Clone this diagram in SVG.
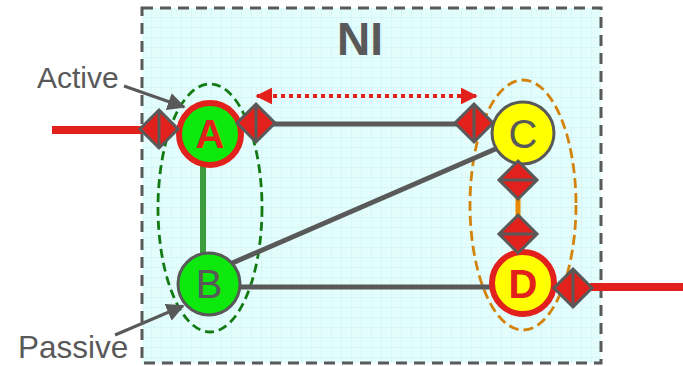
<svg xmlns="http://www.w3.org/2000/svg" width="683" height="366" viewBox="0 0 683 366">
  <defs>
    <pattern id="grid" width="10" height="10" patternUnits="userSpaceOnUse" x="142" y="8">
      <rect width="10" height="10" fill="#e3fdfd"/>
      <path d="M10 0V10M0 10H10" stroke="#c9f1f3" stroke-width="1" fill="none"/>
    </pattern>
    <marker id="grayHead" viewBox="0 0 10 10" refX="9" refY="5" markerWidth="6" markerHeight="6" orient="auto" markerUnits="strokeWidth">
      <path d="M0 0L10 5L0 10z" fill="#595959"/>
    </marker>
    <marker id="redHead" viewBox="0 0 10 10" refX="9" refY="5" markerWidth="4.2" markerHeight="4.2" orient="auto-start-reverse" markerUnits="strokeWidth">
      <path d="M0 0L10 5L0 10z" fill="#e3211c"/>
    </marker>
    <!-- port diamond, split vertically -->
    <g id="portV">
      <path d="M0 -19L19 0L0 19L-19 0z" fill="#e3211c" stroke="#595959" stroke-width="3" stroke-linejoin="miter"/>
      <path d="M0 -19V19" stroke="#595959" stroke-width="3"/>
    </g>
    <!-- port diamond, split horizontally -->
    <g id="portH">
      <path d="M0 -19L19 0L0 19L-19 0z" fill="#e3211c" stroke="#595959" stroke-width="3"/>
      <path d="M-19 0H19" stroke="#595959" stroke-width="3"/>
    </g>
  </defs>
  <style>
    .lbl { font-family: "Liberation Sans", Arial, sans-serif; fill: #595959; }
    .node-txt { font-family: "Liberation Sans", Arial, sans-serif; font-size: 40px; text-anchor: middle; }
    .link { stroke: #595959; stroke-width: 5; fill: none; }
    .ext { stroke: #e3211c; stroke-width: 8; fill: none; }
  </style>

  <!-- NI region -->
  <g id="ni">
    <rect x="142" y="8" width="459" height="355" fill="url(#grid)" stroke="#595959" stroke-width="3" stroke-dasharray="11 7"/>
    <text class="lbl" x="360" y="55" font-size="46" font-weight="bold" text-anchor="middle">NI</text>
  </g>

  <!-- groups of nodes -->
  <ellipse cx="210" cy="208" rx="52" ry="124" fill="none" stroke="#137a13" stroke-width="2.8" stroke-dasharray="9 5"/>
  <ellipse cx="523" cy="205" rx="53" ry="125" fill="none" stroke="#d4830a" stroke-width="2.8" stroke-dasharray="10 5"/>

  <g id="connectors">
    <line class="ext" x1="52" y1="130" x2="142" y2="130"/>
    <line class="ext" x1="590" y1="287" x2="683" y2="287"/>
    <line class="link" x1="270" y1="124" x2="458" y2="124"/>
    <line class="link" x1="230" y1="264" x2="500" y2="147"/>
    <line class="link" x1="240" y1="287" x2="492" y2="287"/>
    <line x1="203" y1="160" x2="203" y2="256" stroke="#3d9c3d" stroke-width="6"/>
    <line x1="518" y1="196" x2="518" y2="216" stroke="#e88a00" stroke-width="5"/>
    <line x1="257" y1="96" x2="476" y2="96" stroke="#e3211c" stroke-width="4" stroke-dasharray="4 4" marker-start="url(#redHead)" marker-end="url(#redHead)"/>
    <line x1="124" y1="86" x2="184" y2="107" stroke="#595959" stroke-width="3" marker-end="url(#grayHead)"/>
    <line x1="115" y1="335" x2="183" y2="306" stroke="#595959" stroke-width="3" marker-end="url(#grayHead)"/>
  </g>

  <g id="node-A">
    <circle cx="210" cy="134" r="31" fill="#0de80d" stroke="#e3211c" stroke-width="6"/>
    <text class="node-txt" x="210" y="148" fill="#e3211c" font-weight="bold">A</text>
  </g>
  <g id="node-B">
    <circle cx="209" cy="284" r="31" fill="#0de80d" stroke="#595959" stroke-width="3"/>
    <text class="node-txt" x="209" y="298" fill="#595959">B</text>
  </g>
  <g id="node-C">
    <circle cx="523" cy="133" r="31" fill="#ffff00" stroke="#595959" stroke-width="3"/>
    <text class="node-txt" x="523" y="148" fill="#595959">C</text>
  </g>
  <g id="node-D">
    <circle cx="523" cy="283" r="31" fill="#ffff00" stroke="#e3211c" stroke-width="6"/>
    <text class="node-txt" x="523" y="298" fill="#e3211c" font-weight="bold">D</text>
  </g>

  <g id="ports">
    <use href="#portV" x="159" y="129"/>
    <use href="#portV" x="256" y="123"/>
    <use href="#portV" x="474" y="123"/>
    <use href="#portH" x="518" y="180"/>
    <use href="#portH" x="518" y="234"/>
    <use href="#portV" x="573" y="288"/>
  </g>

  <g id="labels">
    <text class="lbl" x="37" y="88" font-size="30">Active</text>
    <text class="lbl" x="18" y="358" font-size="31.5">Passive</text>
  </g>
</svg>
